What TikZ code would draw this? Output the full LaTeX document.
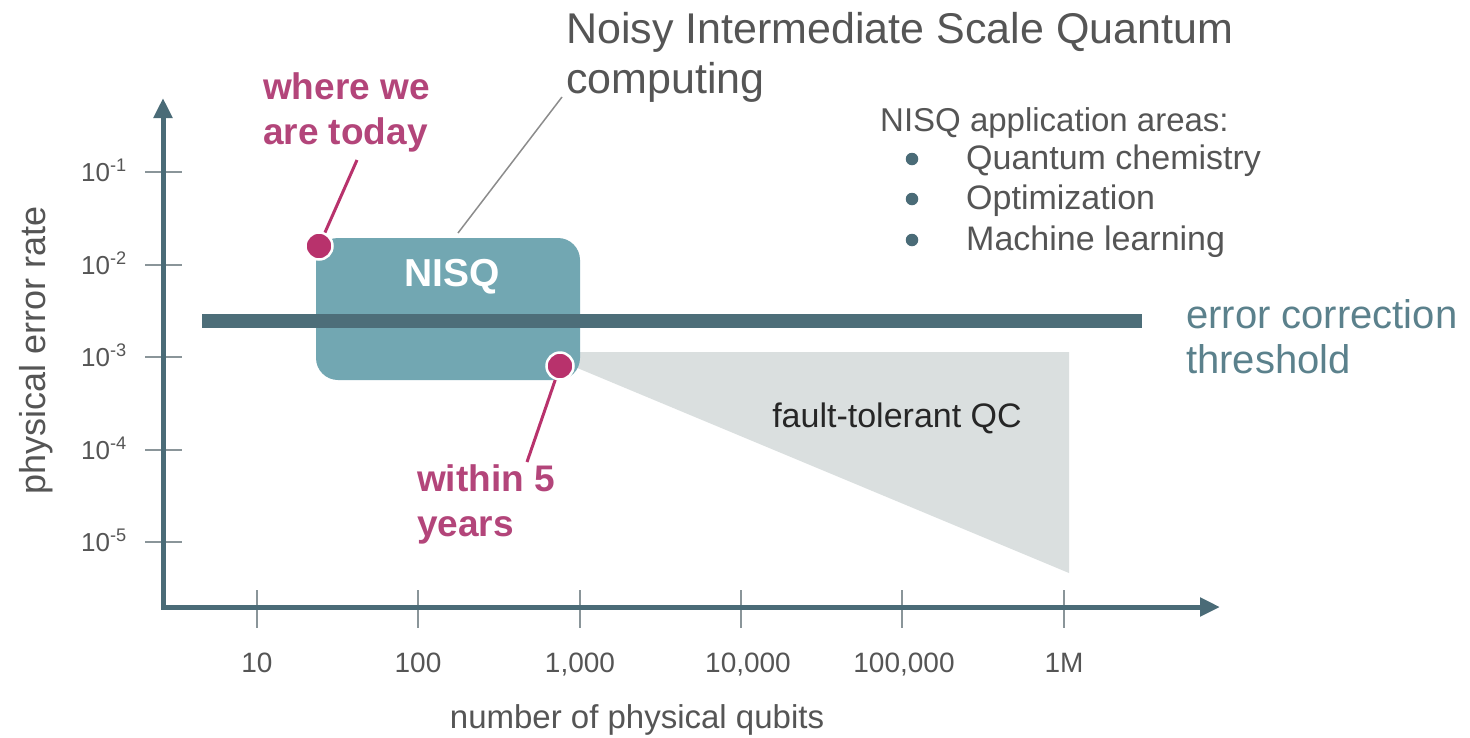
\documentclass[tikz,border=0pt]{standalone}
\usepackage{fontspec}
\setmainfont{Liberation Sans}
\usetikzlibrary{arrows.meta}
\definecolor{axisc}{HTML}{4A6B77}
\definecolor{barc}{HTML}{4D6E79}
\definecolor{boxc}{HTML}{72A7B2}
\definecolor{dotc}{HTML}{B8326C}
\definecolor{pinktext}{HTML}{B3457A}
\definecolor{textgray}{HTML}{555555}
\definecolor{tealtext}{HTML}{5B818C}
\definecolor{tickc}{HTML}{8A9599}
\definecolor{ftgray}{HTML}{DADFDF}
\definecolor{leadgray}{HTML}{8C8C8C}
\tikzset{
  axisline/.style={draw=axisc, line width=5pt, -{Triangle[length=20pt,width=18pt]}},
  tickline/.style={draw=tickc, line width=1.5pt},
  xlab/.style={font=\fontsize{28}{32}\selectfont, text=textgray, anchor=base, inner sep=0pt},
  ylab/.style={font=\fontsize{26}{30}\selectfont, text=textgray, anchor=base east, inner sep=0pt},
  pinkdot/.style={circle, fill=dotc, draw=white, line width=2.5pt, minimum size=27pt, inner sep=0pt},
  pinklabel/.style={font=\bfseries\fontsize{37}{45}\selectfont, text=pinktext, align=left, anchor=north west, inner sep=0pt},
  pinklead/.style={draw=dotc, line width=3pt},
  listitem/.style={font=\fontsize{34}{40}\selectfont, text=textgray, anchor=base west, inner sep=0pt},
  bulletmark/.style={circle, fill=axisc, minimum size=12.5pt, inner sep=0pt},
}
\begin{document}
\begin{tikzpicture}[x=1pt,y=-1pt]
\useasboundingbox[fill=white] (0,0) rectangle (1470,737);

% fault-tolerant region
\fill[ftgray] (570,352) -- (1069,352) -- (1069,573) -- (563,362) -- cycle;
\node[font=\fontsize{34}{40}\selectfont, text=black!85, anchor=base, inner sep=0pt] (ft) at (897,427) {fault-tolerant QC};

% NISQ box
\node[fill=boxc, rounded corners=22pt, minimum width=264pt, minimum height=142pt, inner sep=0pt] (nisq) at (448,309) {};
\node[font=\bfseries\fontsize{39}{44}\selectfont, text=white, anchor=base, inner sep=0pt] (nisqlab) at (452,286) {NISQ};

% threshold bar
\coordinate (barL) at (202,321);
\coordinate (barR) at (1142,321);
\draw[barc, line width=14pt] (barL) -- (barR);

% axes
\coordinate (O) at (163,607);
\coordinate (ytop) at (163,98);
\coordinate (xend) at (1220,607);
\draw[tickline] (145,172) -- (182,172);
\draw[tickline] (145,265) -- (182,265);
\draw[tickline] (145,357) -- (182,357);
\draw[tickline] (145,450) -- (182,450);
\draw[tickline] (145,542) -- (182,542);
\foreach \x in {257,418,580,741,902,1064} { \draw[tickline] (\x,590) -- (\x,628); }
\draw[axisline] (O) -- (ytop);
\draw[axisline] (O) -- (xend);
\fill[axisc] (160.5,604.5) rectangle (165.5,609.5);

% tick labels
\node[ylab] (y1) at (127,181) {10\textsuperscript{-1}};
\node[ylab] (y2) at (127,274) {10\textsuperscript{-2}};
\node[ylab] (y3) at (127,366) {10\textsuperscript{-3}};
\node[ylab] (y4) at (127,459) {10\textsuperscript{-4}};
\node[ylab] (y5) at (127,551) {10\textsuperscript{-5}};
\node[xlab] (x1) at (257,672) {10};
\node[xlab] (x2) at (418,672) {100};
\node[xlab] (x3) at (580,672) {1,000};
\node[xlab] (x4) at (748,672) {10,000};
\node[xlab] (x5) at (904,672) {100,000};
\node[xlab] (x6) at (1064,672) {1M};

% axis titles
\node[font=\fontsize{33}{38}\selectfont, text=textgray, anchor=base, inner sep=0pt] (xtitle) at (637,728) {number of physical qubits};
\node[font=\fontsize{36}{40}\selectfont, text=textgray, anchor=base, rotate=90, inner sep=0pt] (ytitle) at (45,350) {physical error rate};

% title + leader
\node[font=\fontsize{43}{50}\selectfont, text=textgray, align=left, anchor=north west, inner sep=0pt] (title) at (566,12) {Noisy Intermediate Scale Quantum\\computing};
\coordinate (ng1) at (458,233);
\coordinate (ng2) at (562,97);
\draw[leadgray, line width=1.5pt] (ng1) -- (ng2);

% pink annotations
\node[pinklabel] (today) at (263,72) {where we\\are today};
\node[pinklabel] (five) at (417,464) {within 5\\years};
\coordinate (todaytip) at (357,160);
\coordinate (fivetip) at (527,462);
\node[pinkdot] (d1) at (319,246) {};
\node[pinkdot] (d2) at (560,366) {};
\draw[pinklead] (d1) -- (todaytip);
\draw[pinklead] (d2) -- (fivetip);

% application list
\node[font=\fontsize{33}{38}\selectfont, text=textgray, anchor=base west, inner sep=0pt] (apphead) at (880,131) {NISQ application areas:};
\node[bulletmark] (b1) at (912,159) {};
\node[bulletmark] (b2) at (912,199) {};
\node[bulletmark] (b3) at (912,240) {};
\node[listitem] (l1) at (966,169) {Quantum chemistry};
\node[listitem] (l2) at (966,209) {Optimization};
\node[listitem] (l3) at (966,250) {Machine learning};

% threshold label
\node[font=\fontsize{40}{45}\selectfont, text=tealtext, align=left, anchor=north west, inner sep=0pt] (thr) at (1186,299) {error correction\\threshold};
\end{tikzpicture}
\end{document}
